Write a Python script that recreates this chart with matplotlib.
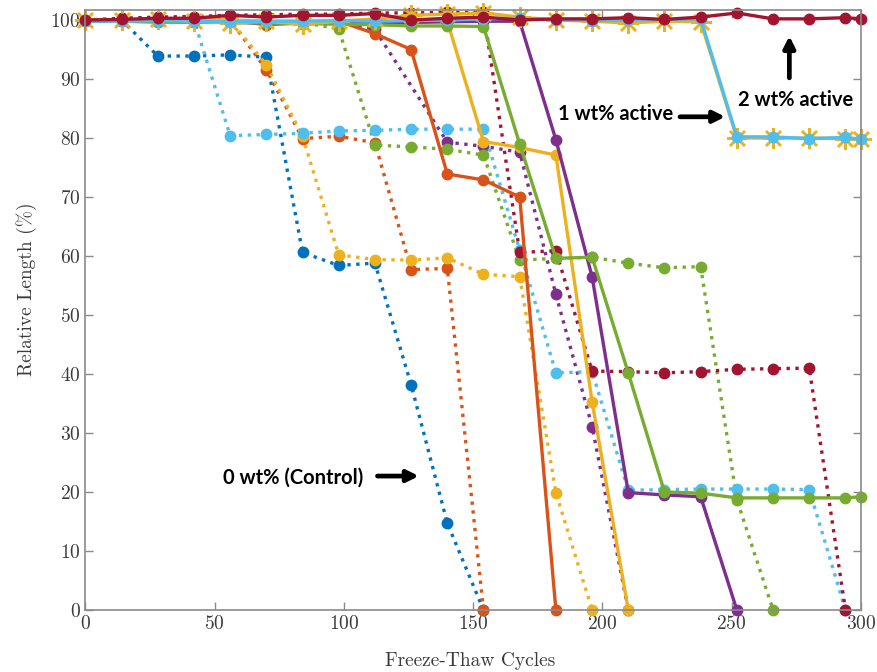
import matplotlib

matplotlib.use("Agg")
import matplotlib.pyplot as plt
import numpy as np

# MATLAB default line colours
BLUE = "#0072BD"
ORANGE = "#D95319"
YELLOW = "#EDB120"
PURPLE = "#7E2F8E"
GREEN = "#77AC30"
LIGHT_BLUE = "#4DBEEE"
DARK_RED = "#A2142F"

CYCLES = np.arange(0, 295, 14)  # 0, 14, ..., 294
CYCLES_END = np.append(CYCLES, 300)

# 0 wt% (control) replicates, dotted
ctl_blue = [100, 100, 93.9, 93.9, 94.1, 93.7, 60.6, 58.4, 58.8, 38.2, 14.7, 0]
ctl_orange = [100, 100, 100, 100, 100, 91.6, 79.9, 80.3, 79.2, 57.7, 57.9, 0]
ctl_yellow = [100, 100, 100, 100, 100, 92.4, 80.3, 60.2, 59.4, 59.3, 59.7, 56.9, 56.5, 19.9, 0]
ctl_purple_x = [0, 14, 28, 42, 56, 70, 84, 98, 112, 140, 154, 168, 182, 196, 210]
ctl_purple = [99.8, 99.8, 99.9, 99.9, 99.9, 99.4, 99.7, 99.8, 98.4, 79.3, 78.6, 77.6, 53.5, 31.1, 0]
ctl_green = [99.8, 99.8, 99.8, 99.8, 99.8, 99.7, 99.6, 98.5, 78.8, 78.5, 78.1, 77.1,
             59.3, 59.6, 59.8, 58.8, 58.0, 58.2, 18.7, 0]
ctl_light_blue = [100, 100, 100, 100, 80.4, 80.6, 80.8, 81.2, 81.3, 81.5, 81.5, 81.5,
                  61.0, 40.2, 40.4, 20.3, 20.4, 20.5, 20.5, 20.5, 20.4, 0]
ctl_dark_red = [100, 100.3, 100.5, 100.6, 100.8, 100.9, 101.0, 101.0, 101.2, 101.2, 101.3, 101.4,
                60.6, 60.9, 40.5, 40.4, 40.2, 40.4, 40.8, 40.9, 41.0, 0]

# 1 wt% active replicates, solid
wt1_orange = [100, 100, 100, 100, 100, 99.2, 99.5, 99.8, 97.7, 95.0, 73.9, 72.9, 70.0, 0]
wt1_yellow = [100, 100, 100, 100, 100, 99.8, 99.8, 99.8, 99.7, 99.7, 99.8, 79.4, 78.4, 77.1, 35.3, 0]
wt1_purple = [99.8, 99.8, 99.7, 99.7, 99.6, 99.5, 99.5, 99.4, 99.5, 99.6, 99.7, 99.8, 99.8,
              79.7, 56.5, 19.9, 19.5, 19.2, 0]
wt1_green = [99.8, 99.8, 99.7, 99.6, 99.6, 99.5, 99.4, 99.3, 99.2, 99.0, 99.0, 98.9,
             79.0, 59.6, 59.8, 40.2, 20.0, 19.8, 19.0, 19.0, 19.0, 19.0, 19.2]

# 2 wt% active replicates, solid
wt2_yellow = [100, 100, 100.2, 99.8, 99.5, 99.8, 99.3, 99.8, 100.2, 100.8, 101.0, 101.2,
              100.5, 100.0, 99.8, 99.5, 99.8, 99.7, 80.0, 80.0, 80.0, 79.9, 79.9]
wt2_light_blue = [99.8, 99.8, 99.9, 99.8, 99.7, 99.8, 99.8, 99.9, 99.8, 99.9, 100.0, 100.2,
                  100.3, 100.0, 99.9, 100.0, 100.1, 100.2, 80.2, 80.2, 79.9, 80.1, 79.8]
wt2_dark_red = [100, 100.1, 100.3, 100.3, 100.8, 100.5, 100.8, 100.8, 101.1, 100.0, 100.3, 100.5,
                100.0, 100.2, 100.2, 100.4, 100.1, 100.5, 101.2, 100.2, 100.2, 100.4, 100.2]

X_TICKS = [0, 50, 100, 150, 200, 250, 300]
Y_TICKS = list(range(0, 101, 10))

plt.rcParams["axes.formatter.use_mathtext"] = True

fig = plt.figure(figsize=(8.78, 6.72), dpi=100)
ax = fig.add_axes([0.0972, 0.0923, 0.8834, 0.8928])


def draw(x, y, color, style, marker="o", ms=7.5, **kw):
    ax.plot(x[: len(y)], y, linestyle=style, color=color, lw=2.4, marker=marker,
            ms=ms, mfc=color, mec=color, clip_on=False, **kw)


# dotted control series
draw(CYCLES, ctl_blue, BLUE, ":")
draw(CYCLES, ctl_orange, ORANGE, ":")
draw(CYCLES, ctl_yellow, YELLOW, ":")
draw(ctl_purple_x, ctl_purple, PURPLE, ":")
draw(CYCLES, ctl_green, GREEN, ":")
draw(CYCLES, ctl_light_blue, LIGHT_BLUE, ":")
draw(CYCLES, ctl_dark_red, DARK_RED, ":")

# 1 wt% solid series
draw(CYCLES, wt1_orange, ORANGE, "-")
draw(CYCLES, wt1_yellow, YELLOW, "-")
draw(CYCLES, wt1_purple, PURPLE, "-")
draw(CYCLES_END, wt1_green, GREEN, "-")

# 2 wt% solid series
draw(CYCLES_END, wt2_yellow, YELLOW, "-", marker=(8, 2, 0), ms=15, mew=1.8)
draw(CYCLES_END, wt2_light_blue, LIGHT_BLUE, "-")
draw(CYCLES_END, wt2_dark_red, DARK_RED, "-")

ax.set_xlim(0, 300)
ax.set_ylim(0, 101.7)
ax.set_xticks(X_TICKS)
ax.set_yticks(Y_TICKS)
ax.tick_params(direction="in", length=6, width=1, colors="#8a8a8a",
               labelcolor="#3a3a3a", labelsize=14, top=True, right=True)
for lab in ax.get_xticklabels() + ax.get_yticklabels():
    lab.set_fontfamily("cmr10")
for side in ax.spines.values():
    side.set_color("#8a8a8a")
    side.set_linewidth(1.2)

ax.set_xlabel("Freeze-Thaw Cycles", fontfamily="cmr10", fontsize=14, color="#3a3a3a")
ax.set_ylabel("Relative Length (%)", fontfamily="cmr10", fontsize=14, color="#3a3a3a")
ax.xaxis.set_label_coords(0.496, -0.07)
ax.yaxis.set_label_coords(-0.062, 0.535)

arrow = dict(arrowstyle="-|>", color="black", lw=3.4, mutation_scale=17, shrinkA=0, shrinkB=0)
ax.text(80.3, 22.5, "0 wt% (Control)", fontfamily="Lato", fontweight="bold",
        fontsize=14.5, ha="center", va="center")
ax.annotate("", xy=(129, 22.7), xytext=(113, 22.7), arrowprops=arrow)
ax.text(205, 84, "1 wt% active", fontfamily="Lato", fontweight="bold",
        fontsize=14.5, ha="center", va="center")
ax.annotate("", xy=(247.5, 83.6), xytext=(230, 83.6), arrowprops=arrow)
ax.text(274.7, 86.4, "2 wt% active", fontfamily="Lato", fontweight="bold",
        fontsize=14.5, ha="center", va="center")
ax.annotate("", xy=(272.3, 97.3), xytext=(272.3, 90.2), arrowprops=arrow)

fig.savefig("out.png", dpi=100)
